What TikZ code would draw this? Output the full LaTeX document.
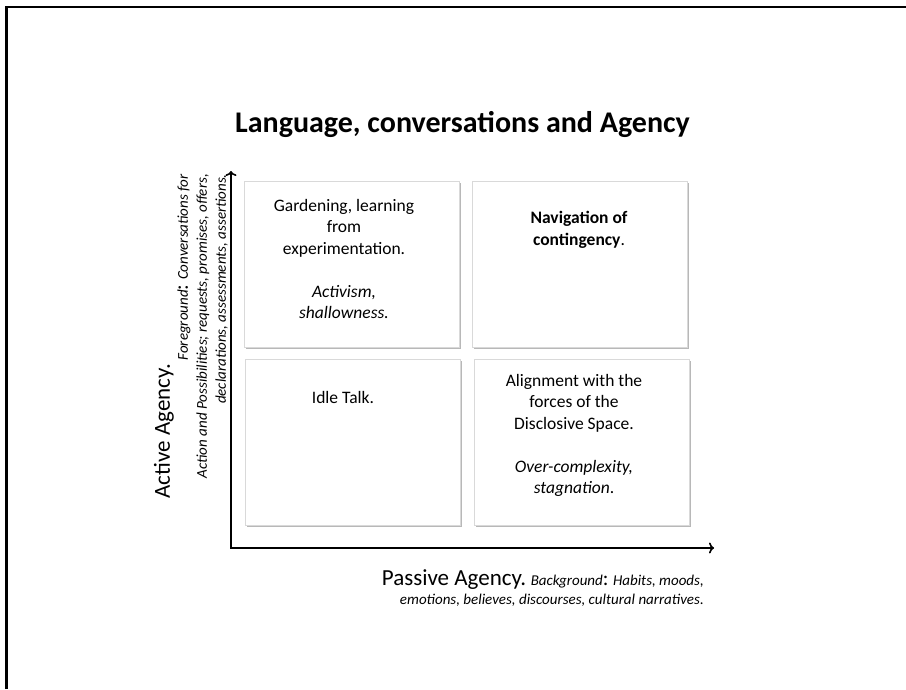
\documentclass[tikz,border=0pt]{standalone}
\usepackage{fontspec}
\setmainfont{Carlito}
\usetikzlibrary{arrows.meta,shadows}

\newcommand{\bigpart}[1]{{\fontsize{23}{19}\selectfont #1}}
\newcommand{\smallpart}[1]{{\fontsize{15}{19}\selectfont\itshape #1}}
\newcommand{\bigcolon}{{\fontsize{21}{19}\selectfont:}}

\tikzset{
  quad/.style={draw=black!15, line width=0.6pt, fill=white,
    minimum width=215pt, minimum height=166pt, anchor=north west,
    drop shadow={shadow xshift=2pt, shadow yshift=-2.5pt, fill=black, opacity=0.28}},
  quadtext/.style={align=center, font=\fontsize{17.5}{21.5}\selectfont, anchor=north, inner sep=0pt},
  axis/.style={line width=2pt, -{To[length=5pt,width=11pt,line width=1.6pt]}},
  frame/.style={line width=2.2pt},
  axislabel/.style={inner sep=0pt, font=\fontsize{15}{19}\selectfont},
}

\begin{document}
\begin{tikzpicture}[x=1pt,y=1pt]
  \useasboundingbox (0,0) rectangle (906,-689);

  % page frame (left and top edges)
  \draw[frame] (6.5,-689) -- (6.5,-7) -- (906,-7);

  % title
  \node[font=\fontsize{30}{36}\selectfont\bfseries, anchor=base] (title) at (462.5,-132)
    {Language, conversations and Agency};

  % four quadrants
  \node[quad] (tl) at (243.5,-180.5) {};
  \node[quad] (tr) at (472,-180.5) {};
  \node[quad] (bl) at (245,-358.5) {};
  \node[quad] (br) at (474,-358.5) {};

  \node[quadtext] (tltext) at (344,-199)
    {Gardening, learning\\from\\experimentation.\\[21.5pt]\itshape Activism,\\\itshape shallowness.};
  \node[quadtext] (trtext) at (579,-211)
    {\bfseries Navigation of\\\textbf{contingency}.};
  \node[quadtext] (bltext) at (343,-391)
    {Idle Talk.};
  \node[quadtext] (brtext) at (574,-374)
    {Alignment with the\\forces of the\\Disclosive Space.\\[21.5pt]\textit{Over-complexity,}\\\textit{stagnation}.};

  % axes
  \coordinate (origin) at (231,-548);
  \coordinate (ytip) at (231,-171);
  \coordinate (xtip) at (714,-548);
  \draw[axis] (origin) -- (ytip);
  \draw[axis] ([xshift=-1pt]origin) -- (xtip);

  % axis labels
  \node[axislabel, rotate=90, anchor=south east, align=right] (ylabel) at (228,-174)
    {\raisebox{18pt}{\bigpart{Active Agency.}} \smallpart{Foreground}\bigcolon{} \smallpart{Conversations for}\\
     \smallpart{Action and Possibilities; requests, promises, offers,}\\
     \smallpart{declarations, assessments, assertions.}};

  \node[axislabel, anchor=north east, align=right] (xlabel) at (704,-569)
    {\bigpart{Passive Agency.} \smallpart{Background}\bigcolon{} \smallpart{Habits, moods,}\\
     \smallpart{emotions, believes, discourses, cultural narratives.}};
\end{tikzpicture}
\end{document}
